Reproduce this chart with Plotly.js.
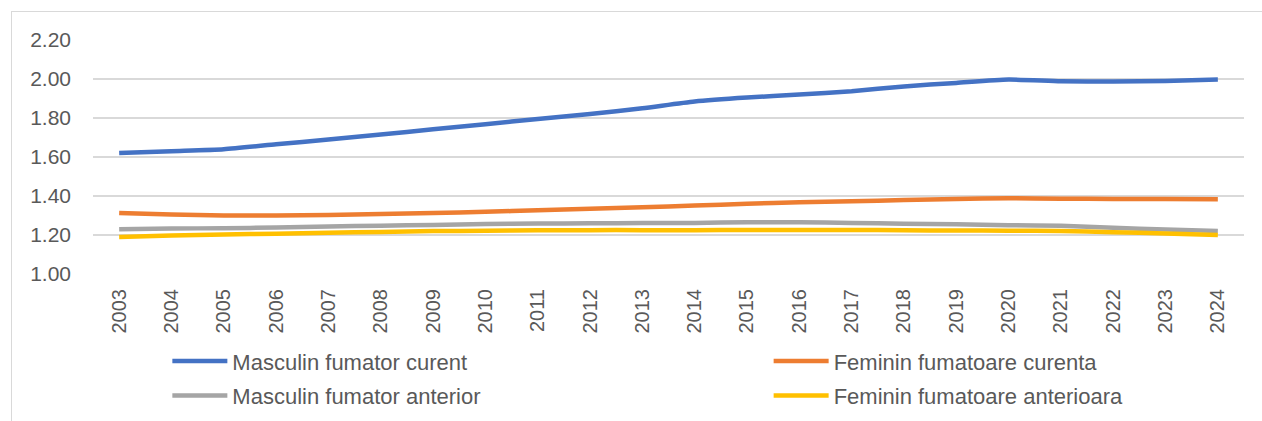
<!DOCTYPE html>
<html>
<head>
<meta charset="utf-8">
<script src="https://cdn.plot.ly/plotly-3.0.1.min.js"></script>
<style>
  html, body { margin: 0; padding: 0; background: #ffffff; }
  #frame { position: absolute; left: 11px; top: 11px; width: 1300px; height: 440px;
           border-left: 1px solid #d9d9d9; border-top: 1px solid #d9d9d9; }
  #chart { position: absolute; left: 0; top: 0; width: 1262px; height: 421px; }
</style>
</head>
<body>
<div id="frame"></div>
<div id="chart"></div>
<script>
const years = ["2003","2004","2005","2006","2007","2008","2009","2010","2011","2012","2013",
               "2014","2015","2016","2017","2018","2019","2020","2021","2022","2023","2024"];

const masculinCurent = [1.62,1.63,1.64,1.665,1.69,1.715,1.742,1.768,1.795,1.82,1.85,
                        1.885,1.905,1.92,1.937,1.962,1.98,1.997,1.988,1.987,1.99,1.997];
const femininCurenta = [1.313,1.305,1.300,1.300,1.303,1.308,1.313,1.319,1.327,1.334,1.342,
                        1.351,1.360,1.368,1.373,1.379,1.385,1.389,1.386,1.385,1.384,1.383];
const masculinAnterior = [1.230,1.233,1.235,1.238,1.243,1.248,1.251,1.256,1.259,1.260,1.261,
                          1.262,1.266,1.265,1.262,1.258,1.255,1.250,1.247,1.237,1.228,1.220];
const femininAnterioara = [1.190,1.198,1.203,1.207,1.212,1.216,1.220,1.222,1.224,1.225,1.225,
                           1.225,1.226,1.226,1.226,1.224,1.223,1.222,1.221,1.214,1.208,1.200];

const seriesNames = ["Masculin fumator curent","Feminin fumatoare curenta",
                     "Masculin fumator anterior","Feminin fumatoare anterioara"];
const seriesValues = [masculinCurent, femininCurenta, masculinAnterior, femininAnterioara];
const seriesColors = ["#4472C4","#ED7D31","#A5A5A5","#FFC000"];
const seriesLegend = ["legend","legend2","legend","legend2"];

const yTicks = [1.0,1.2,1.4,1.6,1.8,2.0,2.2];
const yTickLabels = ["1.00","1.20","1.40","1.60","1.80","2.00","2.20"];

const FONT = "Liberation Sans, Arial, sans-serif";

const traces = seriesValues.map((vals, i) => ({
  type: "scatter",
  mode: "lines",
  x: years,
  y: vals,
  name: seriesNames[i],
  legend: seriesLegend[i],
  legendgroup: "g" + i,
  line: { color: seriesColors[i], width: 4.5, shape: "spline", smoothing: 0.6 },
  hoverinfo: "skip"
}));

const legendBase = {
  orientation: "v",
  xanchor: "left",
  yanchor: "top",
  y: -0.283,
  itemwidth: 55,
  tracegroupgap: 3,
  font: { family: FONT, size: 22, color: "#595959" },
  bgcolor: "rgba(0,0,0,0)",
  traceorder: "grouped"
};

const layout = {
  width: 1262,
  height: 421,
  paper_bgcolor: "rgba(0,0,0,0)",
  plot_bgcolor: "rgba(0,0,0,0)",
  margin: { l: 93, r: 18, t: 40, b: 147, pad: 0, autoexpand: false },
  font: { family: FONT, color: "#595959", size: 20 },
  showlegend: true,
  xaxis: {
    type: "category",
    range: [-0.5, 21.5],
    tickangle: -90,
    showgrid: false,
    zeroline: false,
    showline: false,
    ticks: "",
    ticklabelstandoff: 10,
    tickfont: { family: FONT, size: 20, color: "#595959" }
  },
  yaxis: {
    range: [1.0, 2.2],
    tickvals: yTicks,
    ticktext: yTickLabels,
    showgrid: true,
    gridcolor: "#d9d9d9",
    gridwidth: 1.5,
    zeroline: false,
    showline: false,
    ticks: "",
    ticklabelstandoff: 21,
    tickfont: { family: FONT, size: 21, color: "#595959" }
  },
  legend: Object.assign({}, legendBase, { x: 0.0646 }),
  legend2: Object.assign({}, legendBase, { x: 0.587 })
};

Plotly.newPlot("chart", traces, layout, { staticPlot: true, displayModeBar: false });
</script>
</body>
</html>
